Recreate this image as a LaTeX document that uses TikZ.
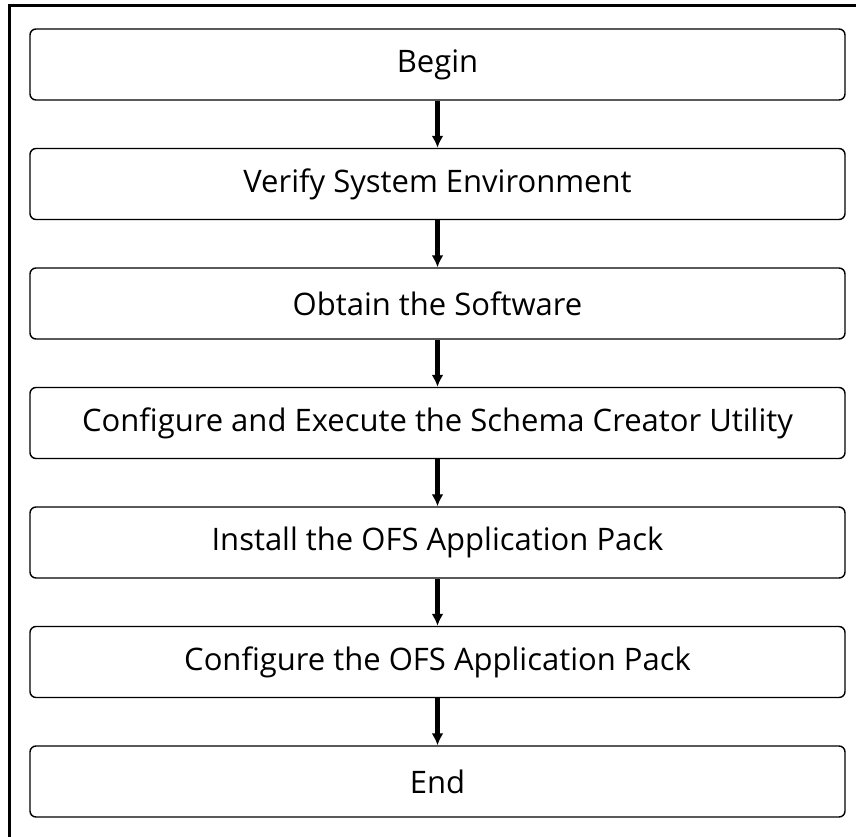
\documentclass[tikz,border=0pt]{standalone}
\usepackage{fontspec}
\setmainfont{Open Sans}
\usetikzlibrary{arrows.meta,positioning}

\begin{document}
\begin{tikzpicture}[x=1pt,y=-1pt,node distance=119.5pt,on grid,
    stepbox/.style={draw,line width=1.4pt,rounded corners=6pt,
        minimum width=815pt,minimum height=71pt,font=\fontsize{31}{36}\selectfont},
    flow/.style={line width=4.5pt,-{Latex[length=12pt,width=12pt]}}]
    \useasboundingbox (0,0) rectangle (856,837);
    % outer frame (only left and top show)
    \draw[line width=3pt] (9,837) -- (9,6) -- (856,6);
    \node[stepbox] (begin) at (437.5,64.5) {Begin};
    \node[stepbox] [below=of begin] (verify) {Verify System Environment};
    \node[stepbox] [below=of verify] (obtain) {Obtain the Software};
    \node[stepbox] [below=of obtain] (schema) {Configure and Execute the Schema Creator Utility};
    \node[stepbox] [below=of schema] (install) {Install the OFS Application Pack};
    \node[stepbox] [below=of install] (config) {Configure the OFS Application Pack};
    \node[stepbox] [below=of config] (end) {End};
    \foreach \a/\b in {begin/verify,verify/obtain,obtain/schema,schema/install,install/config,config/end}
        \draw[flow] (\a.south) -- (\b.north);
\end{tikzpicture}
\end{document}
